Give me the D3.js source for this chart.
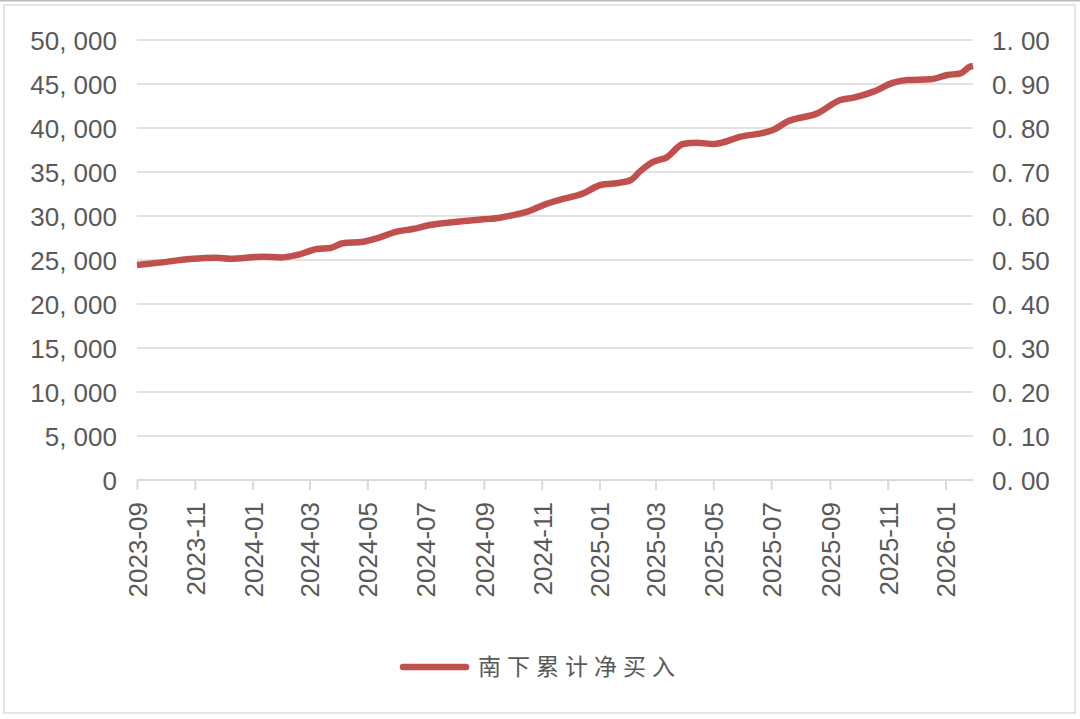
<!DOCTYPE html>
<html>
<head>
<meta charset="utf-8">
<script src="https://cdn.jsdelivr.net/npm/d3@7"></script>
<style>
  body { margin: 0; background: #fff; }
  svg { display: block; }
  text { font-family: "Liberation Sans", "Noto Sans CJK SC", sans-serif; fill: #595959; }
</style>
</head>
<body>
<div id="chart"></div>
<script>
// dates of the readings (cumulative southbound net buying)
const dates = [
  "2023-09-01", "2023-09-25", "2023-10-27", "2023-11-24", "2023-12-08",
  "2024-01-12", "2024-01-30", "2024-02-17", "2024-03-09", "2024-03-23",
  "2024-04-05", "2024-04-27", "2024-05-11", "2024-06-01", "2024-06-18",
  "2024-07-06", "2024-08-04", "2024-08-31", "2024-09-18", "2024-09-29",
  "2024-10-17", "2024-11-03", "2024-11-17", "2024-12-15", "2025-01-02",
  "2025-01-23", "2025-02-03", "2025-02-13", "2025-02-27", "2025-03-13",
  "2025-03-30", "2025-04-14", "2025-05-01", "2025-05-30", "2025-07-03",
  "2025-07-18", "2025-08-19", "2025-09-12", "2025-09-26", "2025-10-17",
  "2025-11-07", "2025-11-22", "2025-12-16", "2026-01-03", "2026-01-17",
  "2026-01-27", "2026-01-30"
];
const netBuy = [
  24430, 24700, 25110, 25260, 25150,
  25380, 25280, 25570, 26250, 26360,
  26900, 27080, 27460, 28220, 28520,
  28980, 29350, 29620, 29810, 30040,
  30490, 31250, 31740, 32580, 33520,
  33790, 34090, 35100, 36170, 36670,
  38180, 38330, 38180, 39010, 39770,
  40720, 41670, 43180, 43450, 44130,
  45150, 45450, 45530, 46020, 46210,
  46970, 47050
];
const seriesName = "南下累计净买入";
const leftTicks = [0, 5000, 10000, 15000, 20000, 25000, 30000, 35000, 40000, 45000, 50000];
const rightTicks = [0, 0.1, 0.2, 0.3, 0.4, 0.5, 0.6, 0.7, 0.8, 0.9, 1.0];
const xTicks = ["2023-09", "2023-11", "2024-01", "2024-03", "2024-05", "2024-07", "2024-09",
  "2024-11", "2025-01", "2025-03", "2025-05", "2025-07", "2025-09", "2025-11", "2026-01"];

const width = 1080, height = 719;
const margin = { top: 40, right: 107, bottom: 239, left: 137 };
const parse = d3.timeParse("%Y-%m-%d");
const parseMonth = d3.timeParse("%Y-%m");

const data = dates.map((d, i) => ({ date: parse(d), value: netBuy[i] }));

const svg = d3.select("#chart").append("svg")
  .attr("width", width)
  .attr("height", height);

// outer frame
svg.append("rect")
  .attr("x", 4).attr("y", 5)
  .attr("width", 1071).attr("height", 708)
  .attr("fill", "none")
  .attr("stroke", "#dcdcdc")
  .attr("stroke-width", 1.5);
svg.append("line")
  .attr("x1", 0).attr("x2", width)
  .attr("y1", 0.5).attr("y2", 0.5)
  .attr("stroke", "#bbbbbb")
  .attr("stroke-width", 2);

const x = d3.scaleTime()
  .domain([parse("2023-09-01"), parse("2026-01-30")])
  .range([margin.left, width - margin.right]);

const y = d3.scaleLinear()
  .domain([0, 50000])
  .range([height - margin.bottom, margin.top]);

const y2 = d3.scaleLinear()
  .domain([0, 1])
  .range([height - margin.bottom, margin.top]);

// gridlines
svg.append("g")
  .selectAll("line")
  .data(leftTicks.slice(1))
  .enter()
  .append("line")
  .attr("x1", margin.left)
  .attr("x2", width - margin.right)
  .attr("y1", d => y(d))
  .attr("y2", d => y(d))
  .attr("stroke", "#d9d9d9")
  .attr("stroke-width", 1.5);

// left axis
const leftAxis = svg.append("g")
  .attr("transform", `translate(${margin.left - 20}, 0)`)
  .call(d3.axisLeft(y).tickValues(leftTicks).tickSize(0).tickPadding(0)
    .tickFormat(d => d3.format(",")(d).replace(",", ", ")));
leftAxis.select(".domain").remove();
leftAxis.selectAll("text")
  .attr("font-size", 26)
  .attr("dy", "0.36em")
  .style("fill", "#595959");

// right axis
const rightAxis = svg.append("g")
  .attr("transform", `translate(${width - margin.right + 19}, 0)`)
  .call(d3.axisRight(y2).tickValues(rightTicks).tickSize(0).tickPadding(0)
    .tickFormat(d => d3.format(".2f")(d).replace(".", ". ")));
rightAxis.select(".domain").remove();
rightAxis.selectAll("text")
  .attr("font-size", 26)
  .attr("dy", "0.36em")
  .style("fill", "#595959");

// bottom axis
const xAxis = svg.append("g")
  .attr("transform", `translate(0, ${height - margin.bottom})`)
  .call(d3.axisBottom(x).tickValues(xTicks.map(parseMonth)).tickSize(10).tickPadding(0)
    .tickFormat(d3.timeFormat("%Y-%m")));
xAxis.select(".domain")
  .attr("d", `M${margin.left},0H${width - margin.right}`)
  .attr("stroke", "#d9d9d9")
  .attr("stroke-width", 2);
xAxis.selectAll(".tick line")
  .attr("stroke", "#d9d9d9")
  .attr("stroke-width", 2);
xAxis.selectAll("text")
  .attr("font-size", 26)
  .attr("transform", "rotate(-90)")
  .attr("text-anchor", "end")
  .attr("x", -22)
  .attr("y", 0)
  .attr("dy", "0.36em")
  .style("fill", "#595959");

// line
const line = d3.line()
  .x(d => x(d.date))
  .y(d => y(d.value))
  .curve(d3.curveMonotoneX);

svg.append("path")
  .datum(data)
  .attr("fill", "none")
  .attr("stroke", "#c0504d")
  .attr("stroke-width", 6.5)
  .attr("stroke-linejoin", "round")
  .attr("d", line);

// legend
const legend = svg.append("g").attr("transform", "translate(400, 667)");
legend.append("line")
  .attr("x1", 3).attr("x2", 66)
  .attr("y1", 0).attr("y2", 0)
  .attr("stroke", "#c0504d")
  .attr("stroke-width", 6.5)
  .attr("stroke-linecap", "round");
legend.append("text")
  .attr("x", 78)
  .attr("y", 0)
  .attr("dy", "0.36em")
  .attr("font-size", 23)
  .attr("letter-spacing", 6)
  .style("font-family", "'Noto Sans CJK SC', sans-serif")
  .style("fill", "#595959")
  .text(seriesName);
</script>
</body>
</html>
